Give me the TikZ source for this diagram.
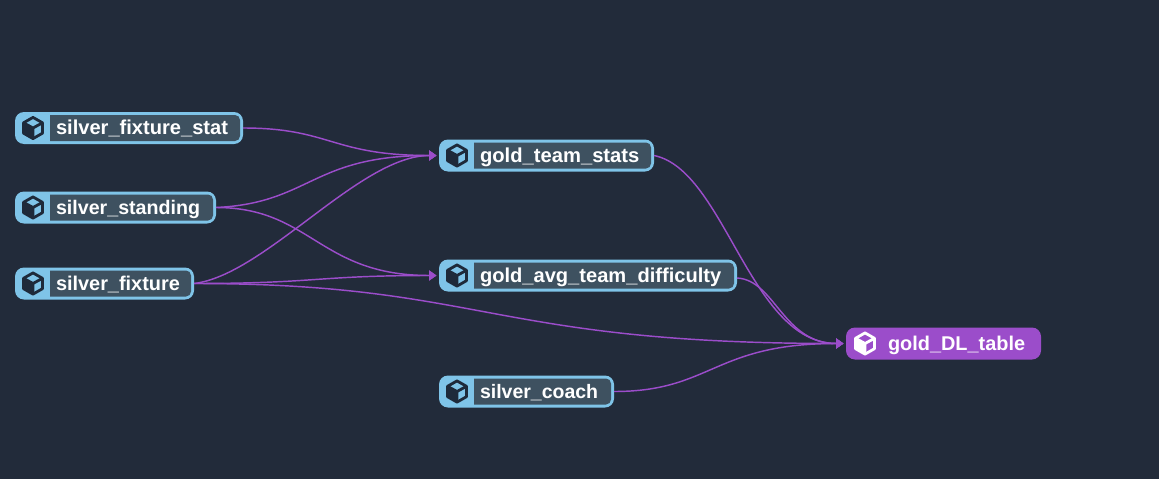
\documentclass[tikz,border=0pt]{standalone}
\usepackage{fontspec}
\setmainfont{Liberation Sans}
\usetikzlibrary{arrows.meta,calc}
\definecolor{bgc}{HTML}{222B3A}
\definecolor{blu}{HTML}{7FC4E8}
\definecolor{inn}{HTML}{3E5160}
\definecolor{pur}{HTML}{9B4DCA}
\definecolor{ico}{HTML}{1E2A3A}
\tikzset{
  modelbox/.style={fill=blu,rounded corners=9pt,minimum height=32pt,inner sep=0pt,outer sep=0pt,anchor=west},
  goldbox/.style={modelbox,fill=pur},
  lab/.style={text=white,font=\bfseries,anchor=base west,inner sep=0pt,outer sep=0pt},
  edge/.style={draw=pur,line width=1.45pt,-{Triangle[length=7.5pt,width=10pt]},shorten >=2.5pt}
}
\newcommand{\fs}[1]{\fontsize{#1}{#1}\selectfont}
\newcommand{\cube}[3]{% center, colour, side colour
  \begin{scope}[shift={(#1)}]
    \fill[#3] (0,0) -- (-9.5,-5.2) -- (-9.5,5.2) -- (0,10.6) -- cycle;
    \draw[#2,line width=2.8pt,line join=round] (0,-10.6) -- (9.5,-5.2) -- (9.5,5.2) -- (0,10.6) -- (-9.5,5.2) -- (-9.5,-5.2) -- cycle;
    \draw[#2,line width=2.8pt,line join=round] (-9.5,-5.2) -- (0,0) -- (9.5,-5.2) (0,0) -- (0,10.6);
  \end{scope}
}
\newcommand{\model}[5]{% name, left, cy, width, text
  \node[modelbox,minimum width=#4pt] (#1) at (#2,#3) {};
  \fill[inn] (#2+35,#3-13) -- (#2+#4-8,#3-13) arc[start angle=90,end angle=0,radius=5pt] -- (#2+#4-3,#3+8) arc[start angle=0,end angle=-90,radius=5pt] -- (#2+35,#3+13) -- cycle;
  \cube{#2+18,#3}{ico}{ico}
  \node[lab] (#1t) at (#2+41,#3+6.5) {#5};
}
\begin{document}
\begin{tikzpicture}[x=1pt,y=-1pt]
\useasboundingbox (0,0) rectangle (1159,479);
\fill[bgc] (0,0) rectangle (1159,479);
\model{a}{15}{128}{228}{\fs{20.1}silver\_fixture\_stat}
\model{b}{15}{207.5}{201}{\fs{19.65}silver\_standing}
\model{c}{15}{283.5}{179}{\fs{19.9}silver\_fixture}
\model{d}{439}{155.5}{215}{\fs{20.2}gold\_team\_stats}
\model{e}{439}{275.5}{298}{\fs{20.1}gold\_avg\_team\_difficulty}
\model{f}{439}{391.5}{175}{\fs{19.5}silver\_coach}
\node[goldbox,minimum width=195pt] (g) at (846,343.5) {};
\cube{865,343.5}{white}{white}
\node[lab] (gt) at (888,350) {\fs{19.9}gold\_DL\_table};
\draw[edge] (a.east) .. controls ($(a.east)+(88,0)$) and ($(d.west)+(-108,0)$) .. (d.west);
\draw[edge] (b.east) .. controls ($(b.east)+(95,-4.5)$) and ($(d.west)+(-128,0)$) .. (d.west);
\draw[edge] (c.east) .. controls ($(c.east)+(71,-8.5)$) and ($(d.west)+(-79,0)$) .. (d.west);
\draw[edge] (b.east) .. controls ($(b.east)+(95,0)$) and ($(e.west)+(-120,0)$) .. (e.west);
\draw[edge] (c.east) .. controls ($(c.east)+(122,0)$) and ($(e.west)+(-122,0)$) .. (e.west);
\draw[edge] (c.east) .. controls ($(c.east)+(290,0)$) and ($(g.west)+(-357,0)$) .. (g.west);
\draw[edge] (d.east) .. controls ($(d.east)+(71,14.5)$) and ($(g.west)+(-96,0)$) .. (g.west);
\draw[edge] ($(e.east)+(0,2.5)$) .. controls ($(e.east)+(38,4.5)$) and ($(g.west)+(-63,0)$) .. (g.west);
\draw[edge] (f.east) .. controls ($(f.east)+(98,0)$) and ($(g.west)+(-133,0)$) .. (g.west);
\end{tikzpicture}
\end{document}
